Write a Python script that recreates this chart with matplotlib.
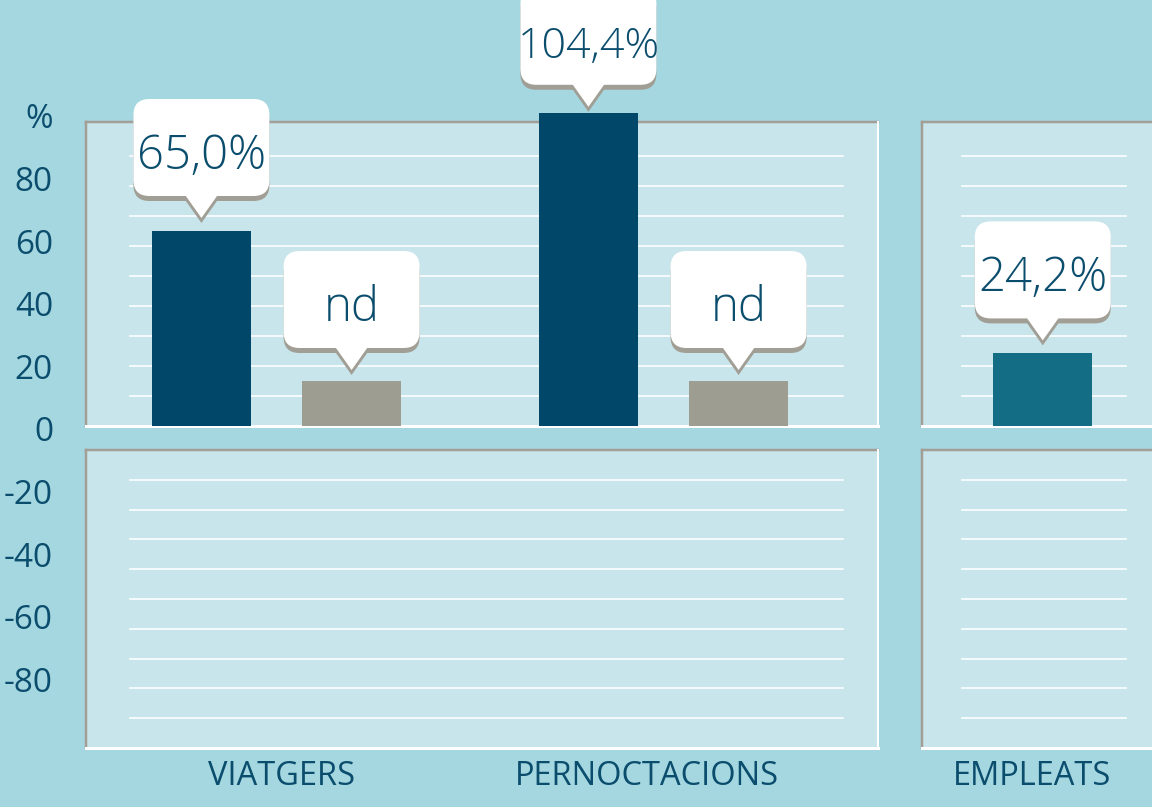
import matplotlib
matplotlib.use("Agg")
import matplotlib.pyplot as plt
import matplotlib.transforms as mtransforms
from matplotlib.patches import Rectangle, FancyBboxPatch, Polygon

# data
categories = ["VIATGERS", "PERNOCTACIONS", "EMPLEATS"]
main_values = [65.0, 104.4, 24.2]
main_labels = ["65,0%", "104,4%", "24,2%"]
nd_values = [15, 15]          # placeholder bars shown as "nd"
nd_labels = ["nd", "nd"]
ytick_values = [100, 80, 60, 40, 20, 0, -20, -40, -60, -80]
ytick_labels = ["%", "80", "60", "40", "20", "0", "-20", "-40", "-60", "-80"]

# colours
BG = "#a5d7e1"
PANEL = "#c8e5eb"
DARK = "#00476a"
GREY = "#9e9d92"
TEAL = "#136e85"
TXT = "#0b4d6d"
SHADOW = "#a19f95"
EDGE = "#a39f96"

plt.rcParams["font.family"] = ["Open Sans", "DejaVu Sans"]

W, H = 1152, 807
fig = plt.figure(figsize=(W / 100, H / 100), dpi=100, facecolor=BG)

# x: group centre 0 at px 276.5, 387 px per group
def px2x(p):
    return (p - 276.5) / 387.0

xlim = (px2x(0), px2x(W))

# top half: 0 at py 426, 3 px per unit
ax_top = fig.add_axes([0, 0, 1, 1])
ax_top.set_ylim(-(H - 426) / 3.0, 426 / 3.0)
# bottom half: 0 at py 450, 2.98 px per unit
ax_bot = fig.add_axes([0, 0, 1, 1])
ax_bot.set_ylim(-(H - 450) / 2.98, 450 / 2.98)
# tick labels: 0 at py 433, 3.13 px per unit
ax_lab = fig.add_axes([0, 0, 1, 1])
ax_lab.set_ylim(-(H - 433) / 3.13, 433 / 3.13)

for a in (ax_top, ax_bot, ax_lab):
    a.set_xlim(*xlim)
    a.axis("off")
    a.patch.set_visible(False)

lw_px = 0.72  # points per pixel

panels_x = [(px2x(86), px2x(878)), (px2x(922), px2x(1200))]
grid_x = [(px2x(130), px2x(843)), (px2x(962), px2x(1126))]
top_h = (426 - 122) / 3.0
bot_h = (748 - 450) / 2.98

for (x0, x1), (g0, g1) in zip(panels_x, grid_x):
    # upper panel
    ax_top.add_patch(Rectangle((x0, 0), x1 - x0, top_h, facecolor=PANEL,
                               edgecolor="none", zorder=1, clip_on=False))
    ax_top.plot([x0, x1], [top_h, top_h], color=EDGE, lw=2.5 * lw_px, zorder=2)
    ax_top.plot([x0, x0], [0, top_h], color=EDGE, lw=2.5 * lw_px, zorder=2)
    ax_top.plot([x1, x1], [0, top_h], color="white", lw=2 * lw_px, zorder=2)
    ax_top.plot([x0, x1], [0, 0], color="white", lw=3 * lw_px, zorder=2)
    for g in range(10, 100, 10):
        ax_top.plot([g0, g1], [g, g], color="white", lw=1.6 * lw_px, zorder=1.5)
    # lower panel
    ax_bot.add_patch(Rectangle((x0, -bot_h), x1 - x0, bot_h, facecolor=PANEL,
                               edgecolor="none", zorder=1, clip_on=False))
    ax_bot.plot([x0, x1], [0, 0], color=EDGE, lw=2.5 * lw_px, zorder=2)
    ax_bot.plot([x0, x0], [-bot_h, 0], color=EDGE, lw=2.5 * lw_px, zorder=2)
    ax_bot.plot([x1, x1], [-bot_h, 0], color="white", lw=2 * lw_px, zorder=2)
    ax_bot.plot([x0, x1], [-bot_h, -bot_h], color="white", lw=3 * lw_px, zorder=2)
    for g in range(-10, -100, -10):
        ax_bot.plot([g0, g1], [g, g], color="white", lw=1.6 * lw_px, zorder=1.5)

# bars
group_x = [0.0, 1.0, 1.98]
off = 0.194
bw = 99 / 387.0
main_x = [group_x[0] - off, group_x[1] - off, group_x[2]]
main_colors = [DARK, DARK, TEAL]
nd_x = [group_x[0] + off, group_x[1] + off]

ax_top.bar(main_x, main_values, width=bw, color=main_colors, zorder=3, clip_on=False)
ax_top.bar(nd_x, nd_values, width=bw, color=GREY, zorder=3, clip_on=False)


def callout(ax, x, y, text, size=34, gap=11):
    tr = mtransforms.Affine2D() + mtransforms.ScaledTranslation(x, y, ax.transData)
    ph, bh, half, r = 22, 97, 68, 16
    yb = gap + ph
    for dy, col, z in [(-5, SHADOW, 4), (0, "white", 5)]:
        ax.add_patch(FancyBboxPatch((-half, yb + dy), 2 * half, bh,
                                    boxstyle="round,pad=0,rounding_size=%d" % r,
                                    facecolor=col, edgecolor="none",
                                    transform=tr, zorder=z, clip_on=False))
        ax.add_patch(Polygon([(-17, yb + dy + 2), (0, gap + dy), (17, yb + dy + 2)],
                             closed=True, facecolor=col, edgecolor="none",
                             transform=tr, zorder=z, clip_on=False))
    ax.text(0, yb + 27, text, transform=tr, ha="center", va="baseline",
            fontsize=size, color=TXT, fontweight="light", zorder=6)


for xv, v, lab in zip(main_x, main_values, main_labels):
    if len(lab) > 5:
        callout(ax_top, xv, v, lab, size=31, gap=6)
    else:
        callout(ax_top, xv, v, lab, gap=13)
for xv, v, lab in zip(nd_x, nd_values, nd_labels):
    callout(ax_top, xv, v, lab)

# y tick labels
for v, lab in zip(ytick_values, ytick_labels):
    ax_lab.text(px2x(53), v, lab, ha="right", va="center", fontsize=24, color=TXT)

# category labels
cat_x = [px2x(281), px2x(647), px2x(1032)]
for xv, lab in zip(cat_x, categories):
    ax_bot.text(xv, -(785 - 450) / 2.98, lab, ha="center", va="baseline",
                fontsize=23.5, color=TXT)

fig.savefig("out.png", dpi=100, facecolor=BG)
